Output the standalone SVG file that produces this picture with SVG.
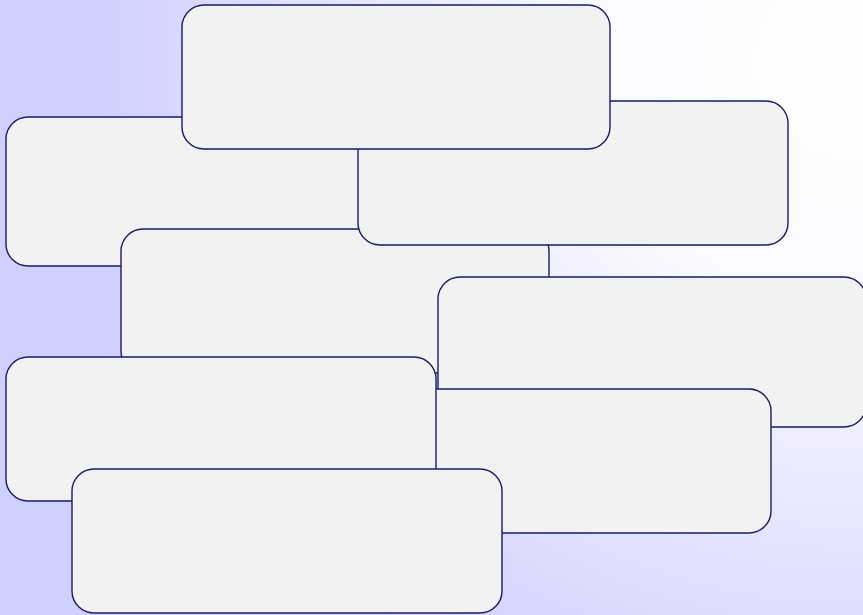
<svg xmlns="http://www.w3.org/2000/svg" width="863" height="615" viewBox="0 0 863 615">
<defs>
<radialGradient id="bg" gradientUnits="userSpaceOnUse" cx="863" cy="60" r="770" gradientTransform="translate(863 60) scale(1 0.92) translate(-863 -60)">
<stop offset="0" stop-color="#ffffff"/>
<stop offset="0.35" stop-color="#fafaff"/>
<stop offset="1" stop-color="#d0d0ff"/>
</radialGradient>
<style>
.n{fill:#f2f2f2;stroke:#1a1a6e;stroke-width:1.4}
</style>
</defs>
<rect x="0" y="0" width="863" height="615" fill="url(#bg)"/>
<g id="nodes">
<g id="n2"><rect class="n" x="6" y="117" width="430" height="149" rx="22"/></g>
<g id="n4"><rect class="n" x="121" y="229" width="428" height="144" rx="22"/></g>
<g id="n3"><rect class="n" x="358" y="101" width="430" height="144" rx="22"/></g>
<g id="n1"><rect class="n" x="182" y="5" width="428" height="144" rx="22"/></g>
<g id="n5"><rect class="n" x="438" y="277" width="428" height="150" rx="22"/></g>
<g id="n6"><rect class="n" x="342" y="389" width="429" height="144" rx="22"/></g>
<g id="n7"><rect class="n" x="6" y="357" width="430" height="144" rx="22"/></g>
<g id="n8"><rect class="n" x="72" y="469" width="430" height="144" rx="22"/></g>
</g>
<g id="connectors"/>
</svg>
